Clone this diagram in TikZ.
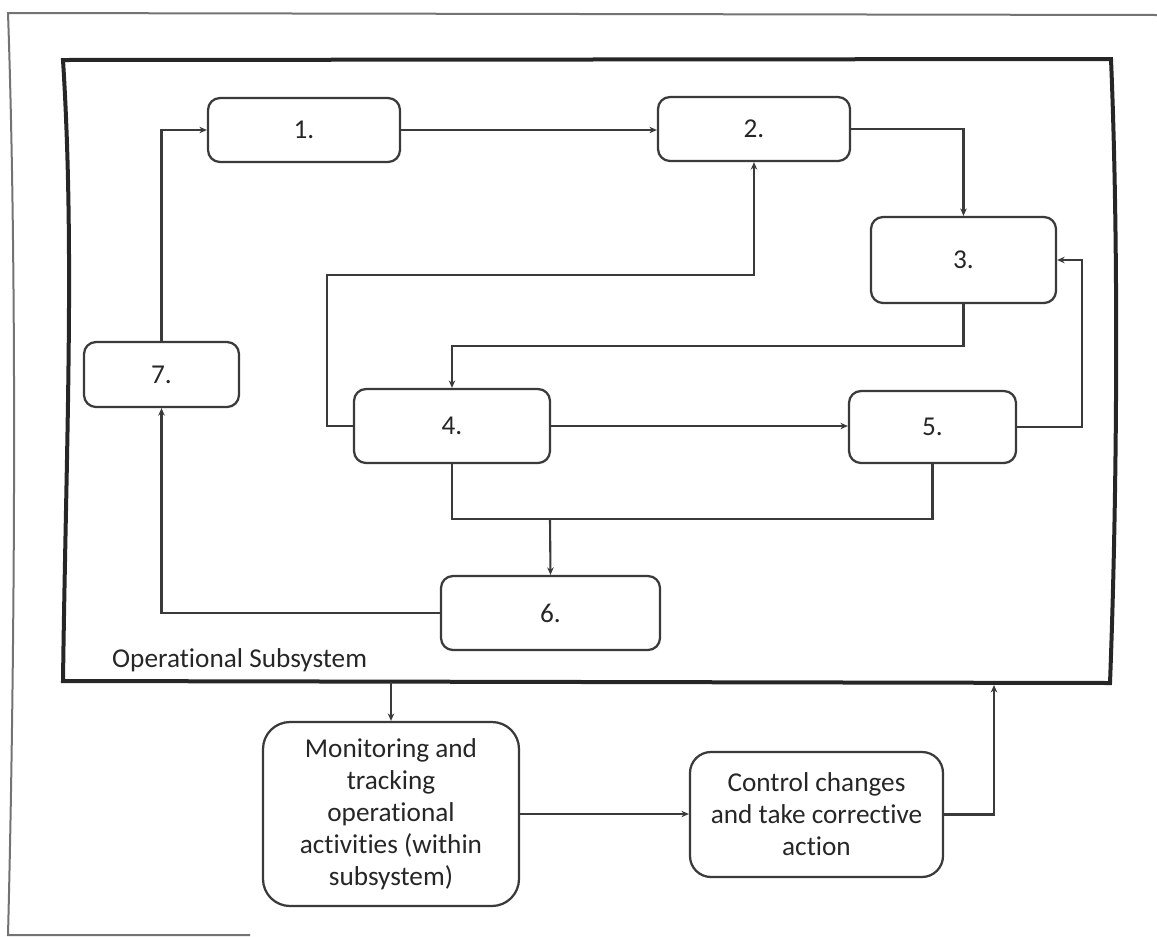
\documentclass[tikz,border=0pt]{standalone}
\usepackage{fontspec}
\setmainfont{Carlito}[Ligatures=NoCommon]
\usetikzlibrary{arrows.meta}
\definecolor{ln}{HTML}{3A3A3A}
\definecolor{tx}{HTML}{262626}
\begin{document}
\begin{tikzpicture}[x=0.2mm,y=-0.2mm,
  box/.style n args={2}{draw=ln, line width=0.45mm, rounded corners=2.4mm,
     minimum width=#1*0.2mm, minimum height=#2*0.2mm, inner sep=0pt,
     text=tx, font=\fontsize{15.5}{18.2}\selectfont, align=center},
  arr/.style={draw=ln, line width=0.42mm, -{Stealth[length=1.5mm,width=1.3mm]}},
  con/.style={draw=ln, line width=0.42mm},
  frame/.style={draw=black!85, line width=0.8mm, line join=miter},
  outer/.style={draw=black!55, line width=0.4mm}]
\useasboundingbox (0,0) rectangle (1157,936);
% outer frame
\draw[outer] (250,935) -- (8,935) .. controls (14,700) and (18,300) .. (8,13) -- (1157,15);
% inner frame
\draw[frame] (63,60) -- (1111,59) .. controls (1119,250) and (1117,500) .. (1110,683)
  -- (63,681) .. controls (66,450) and (75,250) .. (63,60) -- cycle;
\node[anchor=base west, text=tx, font=\fontsize{15.5}{18.2}\selectfont] (lbl) at (106,667) {Operational Subsystem};
% boxes
\node[box={192}{64}] (b1) at (304,130) {1.};
\node[box={192}{64}] (b2) at (754,129) {2.};
\node[box={185}{86}] (b3) at (963.5,260) {3.};
\node[box={196}{74}] (b4) at (452,426) {4.};
\node[box={167}{72}] (b5) at (932.5,427) {5.};
\node[box={219}{74}] (b6) at (550.5,613) {6.};
\node[box={155}{65}] (b7) at (161.5,374.5) {7.};
\node[box={256}{184}, rounded corners=5.4mm] (mon) at (391,814)
  {Monitoring and\\tracking\\operational\\activities (within\\subsystem)};
\node[box={253}{125}, rounded corners=4.2mm] (ctl) at (816.5,814.5)
  {Control changes\\and take corrective\\action};
% helper coordinates
\coordinate (c34) at (0,346);
\coordinate (c42) at (327,275);
\coordinate (c53) at (1082,260);
\coordinate (c6) at (550,519);
\coordinate (fb1) at (391,682);
\coordinate (fb2) at (994,685);
% connectors
\draw[arr] (b1.east) -- (b1.east -| b2.west);
\draw[arr] (b2.east) -| (b3.north);
\draw[arr] (b3.south) -- (b3.south |- c34) -| (b4.north);
\draw[arr] (b4.west) -| (c42) -| (b2.south);
\draw[arr] (b4.east) -- (b4.east -| b5.west);
\draw[arr] (b5.east) -| (c53) -- (b3.east);
\draw[con] (b4.south) |- (b5.south |- c6) -- (b5.south);
\draw[arr] (c6) -- (b6.north);
\draw[arr] (b6.west) -| (b7.south);
\draw[arr] (b7.north) |- (b1.west);
\draw[arr] (fb1) -- (mon.north);
\draw[arr] (mon.east) -- (mon.east -| ctl.west);
\draw[arr] (ctl.east) -| (fb2);
\end{tikzpicture}
\end{document}
